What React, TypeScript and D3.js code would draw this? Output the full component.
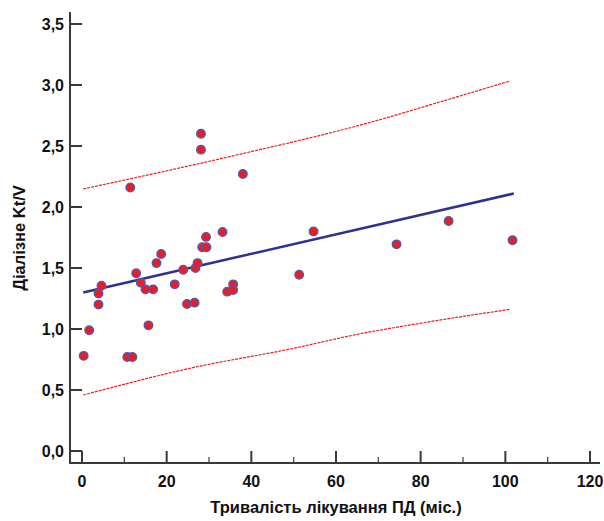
import React from "react";
import * as d3 from "d3";

// тривалість (міс.) / Kt/V
const months = [
  0.4, 1.7, 3.9, 3.9, 4.6, 10.7, 11.9, 11.4, 12.8, 13.9, 15.0, 15.7, 16.8, 17.6, 18.7,
  21.9, 23.9, 24.8, 26.6, 26.8, 27.3, 28.1, 28.1, 28.4, 29.4, 29.3, 33.2, 34.3, 35.7,
  35.7, 38.0, 51.3, 54.7, 74.3, 86.6, 101.7,
];
const ktv = [
  0.78, 0.99, 1.2, 1.29, 1.355, 0.77, 0.77, 2.16, 1.457, 1.38, 1.325, 1.03, 1.325, 1.54,
  1.615, 1.366, 1.486, 1.205, 1.216, 1.5, 1.54, 2.6, 2.47, 1.67, 1.67, 1.755, 1.795,
  1.306, 1.366, 1.32, 2.27, 1.445, 1.8, 1.694, 1.885, 1.727,
];

// regression line (ends)
const fitX = [0.3, 102];
const fitY = [1.3, 2.11];

// prediction band
const upperX = [0.3, 36.5, 67.3, 86.1, 101.1];
const upperY = [2.148, 2.426, 2.686, 2.877, 3.033];
const lowerX = [0.3, 25.5, 50, 65, 82.2, 101.1];
const lowerY = [0.459, 0.678, 0.842, 0.956, 1.06, 1.161];

const yTicks = [0, 0.5, 1, 1.5, 2, 2.5, 3, 3.5];
const xTicks = [0, 20, 40, 60, 80, 100, 120];
const xMinor = [10, 30, 50, 70, 90, 110];

const W = 604;
const H = 521;
const font = "Arial, 'Liberation Sans', sans-serif";
const axisColor = "#3a3a3a";
const textColor = "#111";

export default function App() {
  const x = d3.scaleLinear().domain([0, 120]).range([82, 590]);
  const y = d3.scaleLinear().domain([0, 3.5]).range([451, 24]);
  const axX = 70;
  const axY = 463;

  const line = d3
    .line<[number, number]>()
    .x((d) => x(d[0]))
    .y((d) => y(d[1]))
    .curve(d3.curveMonotoneX);

  const fmt = (v: number) => d3.format(".1f")(v).replace(".", ",");

  return (
    <div style={{ position: "absolute", left: 0, top: 0 }}>
      <svg width={W} height={H} style={{ display: "block" }}>
        <rect width={W} height={H} fill="#fff" />

        {/* bands */}
        <path
          d={line(upperX.map((v, i) => [v, upperY[i]]))!}
          fill="none"
          stroke="#ec1c24"
          strokeWidth={1.2}
          strokeDasharray="3,1"
        />
        <path
          d={line(lowerX.map((v, i) => [v, lowerY[i]]))!}
          fill="none"
          stroke="#ec1c24"
          strokeWidth={1.2}
          strokeDasharray="3,1"
        />

        {/* fit */}
        <path
          d={line(fitX.map((v, i) => [v, fitY[i]]))!}
          fill="none"
          stroke="#2e3192"
          strokeWidth={2.6}
        />

        {/* points */}
        {months.map((m, i) => (
          <circle
            key={i}
            cx={x(m)}
            cy={y(ktv[i])}
            r={4.3}
            fill="#ec1c24"
            stroke="#4b5cb0"
            strokeWidth={1.3}
          />
        ))}

        {/* axes */}
        <line x1={axX} x2={axX} y1={12} y2={axY} stroke={axisColor} strokeWidth={2} />
        <line x1={axX - 1} x2={600} y1={axY} y2={axY} stroke={axisColor} strokeWidth={2} />

        {yTicks.map((t) => (
          <g key={t}>
            <line x1={axX} x2={axX + 12} y1={y(t)} y2={y(t)} stroke={axisColor} strokeWidth={2} />
            <text
              x={64}
              y={y(t)}
              dy="0.36em"
              textAnchor="end"
              fontFamily={font}
              fontWeight="bold"
              fontSize={16}
              fill={textColor}
            >
              {fmt(t)}
            </text>
          </g>
        ))}

        {xTicks.map((t) => (
          <g key={t}>
            <line x1={x(t)} x2={x(t)} y1={axY} y2={axY - 12} stroke={axisColor} strokeWidth={2} />
            <text
              x={x(t)}
              y={487}
              textAnchor="middle"
              fontFamily={font}
              fontWeight="bold"
              fontSize={16}
              fill={textColor}
            >
              {t}
            </text>
          </g>
        ))}
        {xMinor.map((t) => (
          <line key={t} x1={x(t)} x2={x(t)} y1={axY} y2={axY - 6} stroke={axisColor} strokeWidth={1.2} />
        ))}

        <text
          x={336}
          y={513}
          textAnchor="middle"
          fontFamily={font}
          fontWeight="bold"
          fontSize={16.5}
          fill={textColor}
        >
          Тривалість лікування ПД (міс.)
        </text>
        <text
          transform="translate(25,238) rotate(-90)"
          textAnchor="middle"
          fontFamily={font}
          fontWeight="bold"
          fontSize={16.5}
          fill={textColor}
        >
          Діалізне Kt/V
        </text>
      </svg>
    </div>
  );
}
